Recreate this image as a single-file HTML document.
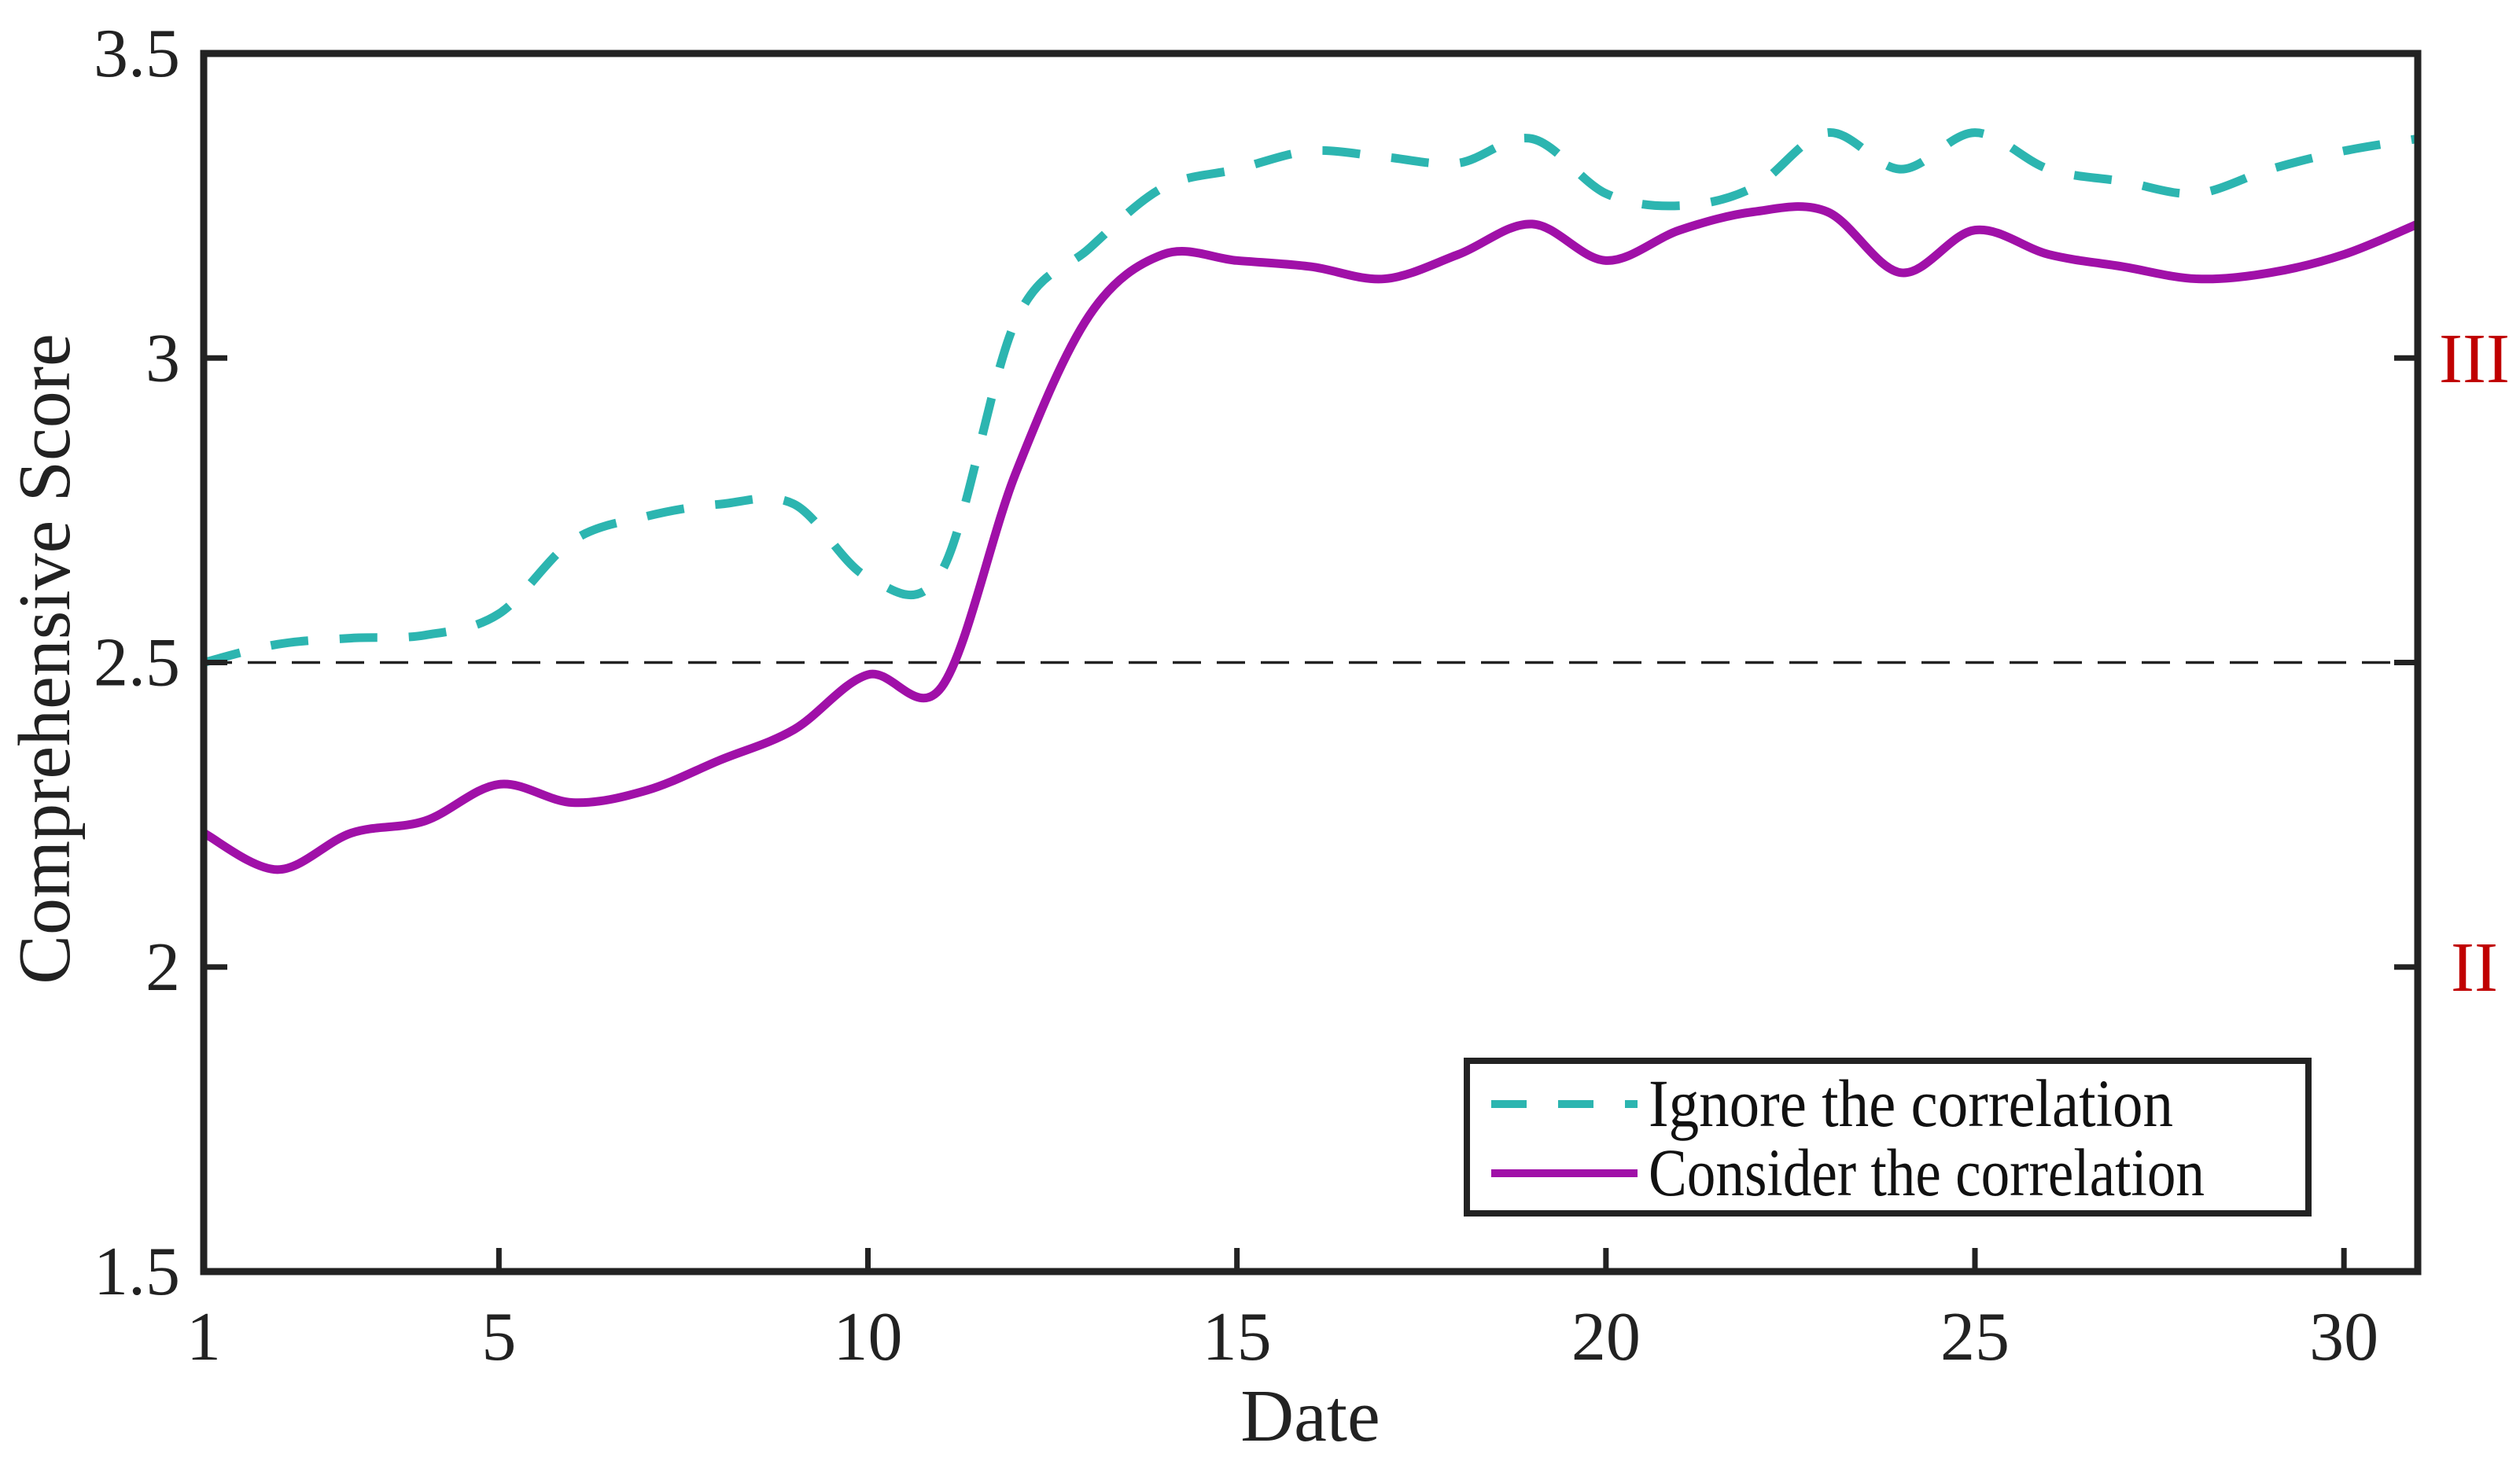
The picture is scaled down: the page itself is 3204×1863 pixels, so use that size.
<!DOCTYPE html>
<html><head><meta charset="utf-8"><style>
html,body{margin:0;padding:0;background:#fff;}
svg{display:block;font-family:"Liberation Serif",serif;}
</style></head><body>
<svg id="chart" width="3204" height="1863" viewBox="0 0 3204 1863" xmlns="http://www.w3.org/2000/svg">
<rect x="0" y="0" width="3204" height="1863" fill="#fff"/>
<g id="marks"></g>
<g id="axes"></g>
<g id="legend">
<rect x="1865" y="1349" width="1070" height="194" fill="#fff" stroke="#222" stroke-width="8"/>
<line x1="1896" y1="1404" x2="2082" y2="1404" stroke="#2cb5b0" stroke-width="10" stroke-dasharray="45,40"/>
<text x="2096" y="1432" font-size="86" fill="#111" textLength="667" lengthAdjust="spacingAndGlyphs">Ignore the correlation</text>
<line x1="1896" y1="1492" x2="2082" y2="1492" stroke="#a010a8" stroke-width="10"/>
<text x="2096" y="1520" font-size="86" fill="#111" textLength="707" lengthAdjust="spacingAndGlyphs">Consider the correlation</text>
</g>
<text transform="translate(88,838) rotate(-90)" text-anchor="middle" font-size="94" fill="#222">Comprehensive Score</text>
<text x="1666" y="1832" text-anchor="middle" font-size="94" fill="#222">Date</text>
<text x="3146" y="486" text-anchor="middle" font-size="90" fill="#c00000">III</text>
<text x="3146" y="1260" text-anchor="middle" font-size="90" fill="#c00000">II</text>
</svg>
<script>
const days=[1,2,3,4,5,6,7,8,9,10,11,12,13,14,15,16,17,18,19,20,21,22,23,24,25,26,27,28,29,30,31];
const ignoreVals=[2.50,2.53,2.54,2.545,2.58,2.70,2.74,2.76,2.76,2.64,2.65,3.06,3.18,3.28,3.31,3.34,3.33,3.32,3.36,3.27,3.25,3.28,3.37,3.31,3.37,3.31,3.29,3.27,3.31,3.34,3.36];
const considerVals=[2.22,2.16,2.22,2.24,2.30,2.27,2.29,2.34,2.39,2.48,2.46,2.81,3.07,3.17,3.16,3.15,3.13,3.17,3.22,3.16,3.21,3.24,3.24,3.14,3.21,3.17,3.15,3.13,3.14,3.17,3.22];
const xTicks=[1,5,10,15,20,25,30];
const yTicks=[1.5,2,2.5,3,3.5];
const yTickLabels=["1.5","2","2.5","3","3.5"];
const refLevel=2.5;

const L=259,R=3074,T=68,B=1617;
const X=d=>L+(d-1)*(R-L)/30;
const Y=v=>B-(v-1.5)*(B-T)/2;
const NS="http://www.w3.org/2000/svg";
function mk(tag,attrs,parent){const e=document.createElementNS(NS,tag);for(const k in attrs)e.setAttribute(k,attrs[k]);parent.appendChild(e);return e;}
function smooth(xs,ys){
  const p=xs.map((x,i)=>[X(x),Y(ys[i])]);
  let d="M"+p[0][0]+","+p[0][1];
  for(let i=0;i<p.length-1;i++){
    const p0=p[Math.max(0,i-1)],p1=p[i],p2=p[i+1],p3=p[Math.min(p.length-1,i+2)];
    const c1=[p1[0]+(p2[0]-p0[0])/6,p1[1]+(p2[1]-p0[1])/6];
    const c2=[p2[0]-(p3[0]-p1[0])/6,p2[1]-(p3[1]-p1[1])/6];
    d+=" C"+c1[0]+","+c1[1]+" "+c2[0]+","+c2[1]+" "+p2[0]+","+p2[1];
  }
  return d;
}
const marks=document.getElementById('marks');
const ref=mk('line',{x1:L,x2:R,y1:Y(refLevel),y2:Y(refLevel),stroke:'#222','stroke-width':3.5,'stroke-dasharray':'36,20'},marks);


const l1=mk('path',{d:smooth(days,ignoreVals),fill:'none',stroke:'#2cb5b0','stroke-width':11,'stroke-dasharray':'48,40'},marks);


const l2=mk('path',{d:smooth(days,considerVals),fill:'none',stroke:'#a010a8','stroke-width':11},marks);



const axes=document.getElementById('axes');
const frame=mk('rect',{x:L,y:T,width:R-L,height:B-T,fill:'none',stroke:'#222','stroke-width':9},axes);


xTicks.forEach(t=>{
  const tk=mk('line',{x1:X(t),x2:X(t),y1:B,y2:B-30,stroke:'#222','stroke-width':7},axes);
  
  
  const tx=mk('text',{x:X(t),y:B+112,'text-anchor':'middle','font-size':88,fill:'#222'},axes);
  tx.textContent=String(t);
  
  
});
yTicks.forEach((t,i)=>{
  const tk=mk('line',{x1:L,x2:L+30,y1:Y(t),y2:Y(t),stroke:'#222','stroke-width':7},axes);
  
  
  const tk2=mk('line',{x1:R,x2:R-30,y1:Y(t),y2:Y(t),stroke:'#222','stroke-width':7},axes);
  
  
  const tx=mk('text',{x:L-30,y:Y(t)+29,'text-anchor':'end','font-size':88,fill:'#222'},axes);
  tx.textContent=yTickLabels[i];
  
  
});
</script>
</body></html>
